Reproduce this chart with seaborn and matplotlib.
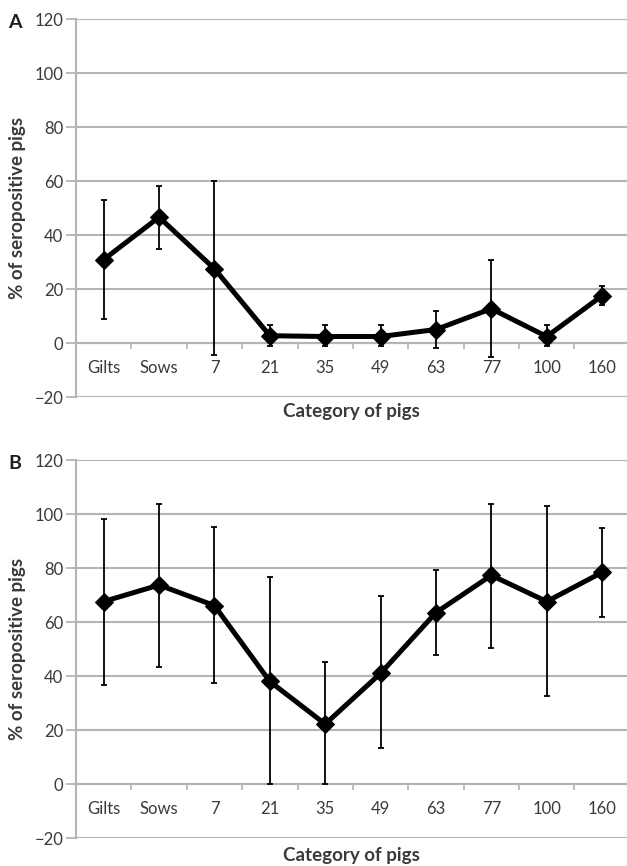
import matplotlib
matplotlib.use("Agg")
import matplotlib.pyplot as plt
import seaborn as sns
import pandas as pd
import numpy as np

# categories of pigs (x axis)
categories = ['Gilts', 'Sows', '7', '21', '35', '49', '63', '77', '100', '160']

# panel A: % seropositive, lower and upper limits
a_mean = [30.9, 46.6, 27.5, 2.7, 2.4, 2.4, 5.0, 12.7, 2.4, 17.5]
a_low = [8.9, 35.0, -4.3, -1.0, -1.0, -1.0, -2.0, -5.1, -1.0, 14.2]
a_high = [52.9, 58.0, 59.9, 6.7, 6.5, 6.5, 12.0, 30.6, 6.5, 21.2]

# panel B
b_mean = [67.7, 73.8, 66.2, 38.1, 22.3, 41.1, 63.6, 77.4, 67.7, 78.5]
b_low = [36.7, 43.5, 37.4, 0.2, 0.0, 13.3, 47.9, 50.6, 32.7, 62.1]
b_high = [98.4, 104.0, 95.4, 76.9, 45.4, 69.8, 79.4, 104.0, 103.0, 95.0]

yticks = [-20, 0, 20, 40, 60, 80, 100, 120]

sns.set_theme(style='white')
plt.rcParams['font.family'] = ['Lato', 'DejaVu Sans']

grid_col = '#b4b4b4'
text_col = '#3a3a3a'

fig = plt.figure(figsize=(6.27, 8.66), dpi=100)
W, H = 627, 866
axw = W - 76


def panel(ax, letter, mean, low, high):
    df = pd.DataFrame({'category': categories, 'value': mean,
                       'low': low, 'high': high})
    df['pos'] = np.arange(len(df))
    err = [df['value'] - df['low'], df['high'] - df['value']]
    ax.errorbar(df['pos'], df['value'], yerr=err, fmt='none', ecolor='black',
                elinewidth=1.3, capsize=2.5, capthick=1.3, zorder=3)
    sns.lineplot(data=df, x='pos', y='value', ax=ax, color='black',
                 linewidth=3.6, marker='D', markersize=9,
                 markeredgecolor='black', markerfacecolor='black', zorder=4)

    ax.set_ylim(-20, 120)
    ax.set_xlim(-0.5, 9.45)
    ax.set_yticks(yticks)
    ax.set_yticklabels(['\u221220' if t < 0 else str(t) for t in yticks])
    ax.yaxis.grid(True, color=grid_col, linewidth=1.5)
    ax.set_axisbelow(True)

    ax.set_xticks(df['pos'])
    ax.set_xticklabels(df['category'])
    ax.set_xticks(df['pos'][:-1] + 0.5, minor=True)
    ax.tick_params(axis='x', which='major', length=0, pad=12,
                   labelsize=12, labelcolor=text_col)
    ax.tick_params(axis='x', which='minor', length=4, width=1.2,
                   color=grid_col, direction='out', bottom=True)
    ax.tick_params(axis='y', length=7, width=1.3, color=grid_col,
                   labelsize=12, labelcolor=text_col, pad=2, left=True)

    ax.spines['bottom'].set_position(('data', 0))
    ax.spines['bottom'].set_color(grid_col)
    ax.spines['bottom'].set_linewidth(1.5)
    ax.spines['left'].set_color(grid_col)
    ax.spines['left'].set_linewidth(1.5)
    ax.spines['top'].set_visible(False)
    ax.spines['right'].set_visible(False)

    ax.set_xlabel('')
    ax.set_ylabel('% of seropositive pigs', fontsize=13.5, fontweight='bold',
                  color=text_col)
    ax.yaxis.set_label_coords((26 - 76) / axw, 0.5)
    ax.text((15 - 76) / axw, 1.0 - 3 / 378, letter, transform=ax.transAxes,
            fontsize=14, fontweight='bold', color='#202020',
            ha='center', va='center')


left = 76 / W
width = axw / W
ax_a = fig.add_axes([left, 1 - 397 / H, width, 378 / H])
ax_b = fig.add_axes([left, 1 - 838.3 / H, width, 378 / H])

panel(ax_a, 'A', a_mean, a_low, a_high)
panel(ax_b, 'B', b_mean, b_low, b_high)

fig.text((76 + W) / 2 / W, 1 - 412 / H, 'Category of pigs', fontsize=13.5,
         fontweight='bold', color=text_col, ha='center', va='center')
fig.text((76 + W) / 2 / W, 1 - 855 / H, 'Category of pigs', fontsize=13.5,
         fontweight='bold', color=text_col, ha='center', va='center')

fig.savefig('out.png', dpi=100)
